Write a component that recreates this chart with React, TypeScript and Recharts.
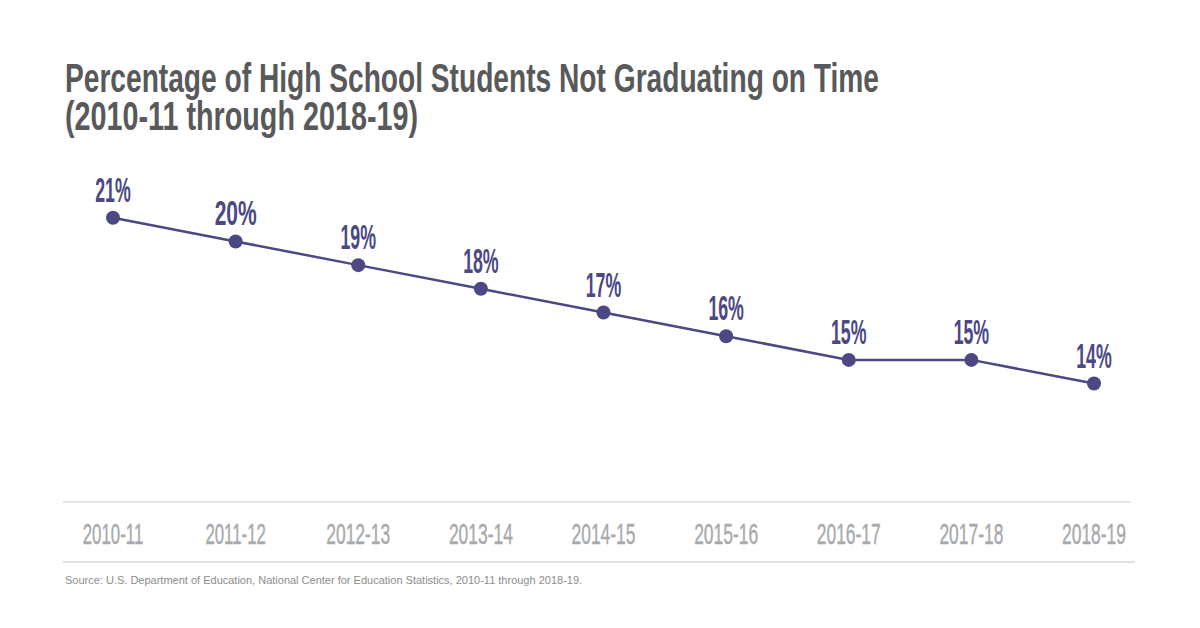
import React from "react";
import { LineChart, Line, XAxis, YAxis, LabelList } from "recharts";

const YEARS = ["2010-11", "2011-12", "2012-13", "2013-14", "2014-15", "2015-16", "2016-17", "2017-18", "2018-19"];
const NOT_ON_TIME = [21, 20, 19, 18, 17, 16, 15, 15, 14];

const TITLE_LINES = ["Percentage of High School Students Not Graduating on Time", "(2010-11 through 2018-19)"];
const SOURCE = "Source: U.S. Department of Education, National Center for Education Statistics, 2010-11 through 2018-19.";

const PURPLE = "#4b4883";
const GOTHIC = "'Liberation Sans Narrow', 'Arial Narrow', 'Liberation Sans', Arial, sans-serif";

const data = YEARS.map((year, i) => ({ year, rate: NOT_ON_TIME[i] }));

// rough glyph widths of a gothic condensed face, used to squeeze text with textLength
function gothicWidth(text: string, digit: number, one: number, dash: number, pct: number) {
  let w = 0;
  for (const ch of text) {
    if (ch === "1") w += one;
    else if (ch === "-") w += dash;
    else if (ch === "%") w += pct;
    else w += digit;
  }
  return w;
}

function YearTick(props: any) {
  const { x, y, payload } = props;
  const label = String(payload.value);
  return (
    <text
      x={x}
      y={y + 34}
      textAnchor="middle"
      fontFamily={GOTHIC}
      fontSize={30}
      fill="#a7a9ac"
      stroke="#a7a9ac"
      strokeWidth={0.4}
      textLength={gothicWidth(label, 10.5, 7, 8, 0)}
      lengthAdjust="spacingAndGlyphs"
    >
      {label}
    </text>
  );
}

function RateLabel(props: any) {
  const { x, y, value } = props;
  const label = `${value}%`;
  return (
    <text
      x={x}
      y={y - 16}
      textAnchor="middle"
      fontFamily={GOTHIC}
      fontWeight="bold"
      fontSize={35}
      fill={PURPLE}
      textLength={gothicWidth(label, 12.5, 6, 0, 17)}
      lengthAdjust="spacingAndGlyphs"
    >
      {label}
    </text>
  );
}

export default function App() {
  return (
    <div style={{ position: "absolute", left: 0, top: 0, width: 1200, height: 628, background: "#fff" }}>
      <LineChart width={1200} height={628} data={data} margin={{ top: 123, right: 69, bottom: 66, left: 63 }}>
        <XAxis
          dataKey="year"
          height={60}
          padding={{ left: 50, right: 37 }}
          axisLine={{ stroke: "#c8c8c8", strokeWidth: 1 }}
          tickLine={false}
          tick={<YearTick />}
          interval={0}
        />
        <YAxis hide domain={[9, 25]} />
        <Line
          type="linear"
          dataKey="rate"
          stroke={PURPLE}
          strokeWidth={2.5}
          dot={{ r: 7, fill: PURPLE, stroke: PURPLE, strokeWidth: 0 }}
          activeDot={false}
          isAnimationActive={false}
        >
          <LabelList dataKey="rate" content={<RateLabel />} />
        </Line>
      </LineChart>
      <svg width={1200} height={628} style={{ position: "absolute", left: 0, top: 0, pointerEvents: "none" }}>
        <text fontFamily={GOTHIC} fontWeight="bold" fontSize={41} fill="#58595b">
          <tspan x={65} y={92} textLength={814} lengthAdjust="spacingAndGlyphs">
            {TITLE_LINES[0]}
          </tspan>
          <tspan x={65} y={130} textLength={353} lengthAdjust="spacingAndGlyphs">
            {TITLE_LINES[1]}
          </tspan>
        </text>
        <line x1={63} x2={1135} y1={562} y2={562} stroke="#e2e2e2" strokeWidth={2} />
        <text x={65} y={584} fontFamily="'Liberation Sans', Arial, sans-serif" fontSize={11} fill="#8c8c8c">
          {SOURCE}
        </text>
      </svg>
    </div>
  );
}
